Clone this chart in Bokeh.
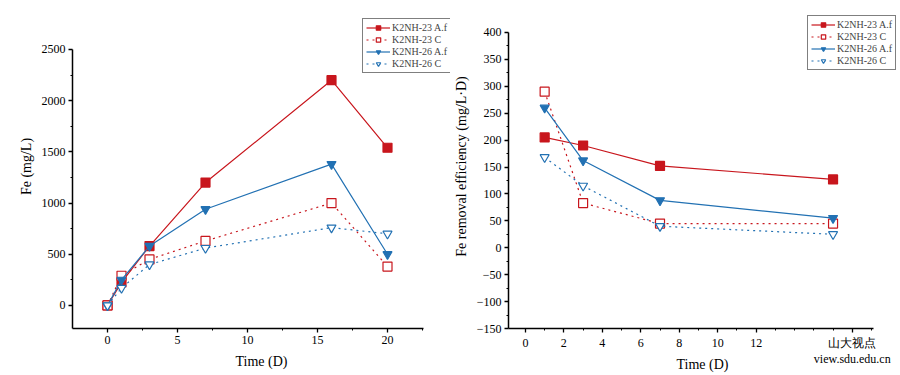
from bokeh.plotting import figure
from bokeh.layouts import row
from bokeh.models import Legend, LegendItem, FixedTicker, Range1d
from bokeh.embed import file_html
from bokeh.resources import INLINE

# ---- data ----
t_left = [0, 1, 3, 7, 16, 20]
fe_23_af = [0, 225, 580, 1200, 2200, 1540]
fe_23_c = [0, 290, 450, 630, 1000, 380]
fe_26_af = [0, 250, 580, 940, 1380, 500]
fe_26_c = [0, 170, 400, 560, 760, 700]

t_right = [1, 3, 7, 16]
eff_23_af = [205, 190, 152, 127]
eff_23_c = [290, 83, 45, 45]
eff_26_af = [260, 162, 88, 55]
eff_26_c = [168, 115, 40, 25]

series_labels = ["K2NH-23 A.f", "K2NH-23 C", "K2NH-26 A.f", "K2NH-26 C"]
watermark = "山大视点\nview.sdu.edu.cn"

RED = "#c8161d"
BLUE = "#2271b3"
FONT = "Liberation Serif"


def style(p):
    p.outline_line_color = None
    p.grid.visible = False
    p.background_fill_color = "white"
    for ax in p.axis:
        ax.axis_line_width = 1.5
        ax.axis_line_color = "black"
        ax.major_tick_line_width = 1.3
        ax.minor_tick_line_width = 1.0
        ax.major_tick_out = 4
        ax.major_tick_in = 0
        ax.minor_tick_out = 2
        ax.minor_tick_in = 0
        ax.major_label_text_font = FONT
        ax.major_label_text_font_size = "12px"
        ax.major_label_text_color = "black"
        ax.major_label_standoff = 3
        ax.axis_label_text_font = FONT
        ax.axis_label_text_font_size = "14px"
        ax.axis_label_text_font_style = "normal"
        ax.axis_label_text_color = "black"
        ax.axis_label_standoff = 5


def add_series(p, x, ys):
    items = []
    specs = [
        (ys[0], RED, "square", RED, "solid"),
        (ys[1], RED, "square", "white", "dotted"),
        (ys[2], BLUE, "inverted_triangle", BLUE, "solid"),
        (ys[3], BLUE, "inverted_triangle", "white", "dotted"),
    ]
    for (y, col, mk, fill, dash), lab in zip(specs, series_labels):
        lr = p.line(x, y, line_color=col, line_width=1.2, line_dash=dash)
        sr = p.scatter(x, y, marker=mk, size=9, line_color=col, fill_color=fill, line_width=1.2)
        items.append(LegendItem(label=lab, renderers=[lr, sr]))
    return items


def make_legend(items, loc):
    lg = Legend(items=items, location=loc)
    lg.label_text_font = FONT
    lg.label_text_font_size = "10px"
    lg.label_height = 11
    lg.label_standoff = 2
    lg.glyph_height = 11
    lg.glyph_width = 24
    lg.spacing = 1
    lg.padding = 3
    lg.margin = 0
    lg.border_line_color = "black"
    lg.border_line_width = 1.5
    lg.background_fill_alpha = 1
    return lg


# ---- left figure (frame extended up/right, axes bounded) ----
p1 = figure(width=450, height=375, output_backend="svg", toolbar_location=None,
            x_range=Range1d(-2.5, 24.5), y_range=Range1d(-225, 2939),
            min_border_left=72, min_border_right=0, min_border_top=4, min_border_bottom=44)
style(p1)
p1.xaxis.bounds = (-2.5, 22.57)
p1.yaxis.bounds = (-225, 2500)
p1.xaxis.ticker = FixedTicker(ticks=[0, 5, 10, 15, 20], minor_ticks=[2.5, 7.5, 12.5, 17.5, 22.5])
p1.yaxis.ticker = FixedTicker(ticks=[0, 500, 1000, 1500, 2000, 2500],
                              minor_ticks=[250, 750, 1250, 1750, 2250])
p1.xaxis.axis_label = "Time (D)"
p1.xaxis.axis_label_standoff = 7
p1.yaxis.axis_label = "Fe (mg/L)"
items1 = add_series(p1, t_left, [fe_23_af, fe_23_c, fe_26_af, fe_26_c])
p1.add_layout(make_legend(items1, (290, 255)))

# ---- right figure ----
p2 = figure(width=446, height=375, output_backend="svg", toolbar_location=None,
            x_range=Range1d(-0.88, 19.3), y_range=Range1d(-150, 451.9),
            min_border_left=56, min_border_right=0, min_border_top=4, min_border_bottom=44)
style(p2)
p2.xaxis.bounds = (-0.88, 18.1)
p2.yaxis.bounds = (-150, 400)
p2.xaxis.ticker = FixedTicker(ticks=list(range(0, 13, 2)) + [17],
                              minor_ticks=[1, 3, 5, 7, 9, 11, 13, 14, 15, 16, 18])
p2.xaxis.major_label_overrides = {17: watermark}
p2.xaxis.axis_label_standoff = -12
p2.yaxis.ticker = FixedTicker(ticks=list(range(-150, 401, 50)), minor_ticks=list(range(-125, 400, 50)))
p2.xaxis.axis_label = "Time (D)"
p2.yaxis.axis_label = "Fe removal efficiency (mg/L·D)"
items2 = add_series(p2, t_right, [eff_23_af, eff_23_c, eff_26_af, eff_26_c])
p2.add_layout(make_legend(items2, (299, 258)))

layout = row(p1, p2, spacing=0)
open("out.html", "w").write(file_html(layout, INLINE))
